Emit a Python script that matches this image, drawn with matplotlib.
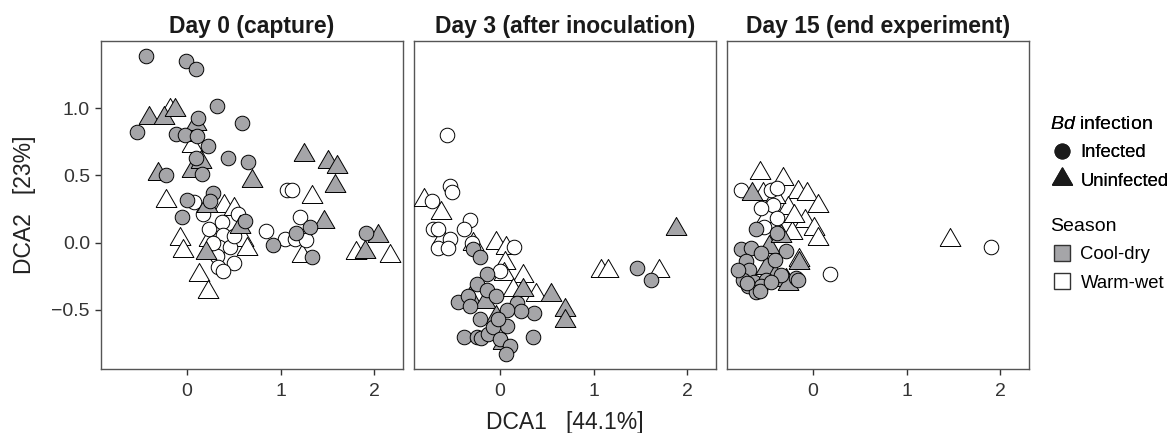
import matplotlib
matplotlib.use("Agg")
import matplotlib.pyplot as plt
from matplotlib.lines import Line2D

plt.rcParams['font.family'] = ['Liberation Sans', 'DejaVu Sans']
plt.rcParams['mathtext.fontset'] = 'custom'
plt.rcParams['mathtext.it'] = 'Liberation Sans:italic'
plt.rcParams['mathtext.rm'] = 'Liberation Sans'

# panel titles
titles = ["Day 0 (capture)", "Day 3 (after inoculation)", "Day 15 (end experiment)"]

# Day 0 points (DCA1, DCA2)
d0_cool_inf = [(-0.44, 1.385), (-0.01, 1.35), (0.10, 1.29), (0.32, 1.02), (0.59, 0.89), (0.12, 0.93),
               (-0.53, 0.82), (-0.12, 0.81), (-0.02, 0.80), (0.11, 0.79), (0.22, 0.72), (0.10, 0.63),
               (0.44, 0.63), (0.65, 0.60), (-0.23, 0.50), (0.16, 0.51), (0.00, 0.32), (0.28, 0.37),
               (0.25, 0.31), (-0.05, 0.19), (0.62, 0.16), (0.92, -0.02), (1.17, 0.07), (1.31, 0.12),
               (1.34, -0.11), (1.91, 0.07)]
d0_cool_uninf = [(-0.41, 0.93), (-0.25, 0.93), (-0.13, 0.99), (0.10, 0.88), (-0.31, 0.51), (0.05, 0.53),
                 (0.15, 0.60), (0.21, 0.27), (0.57, 0.12), (0.70, 0.46), (1.25, 0.65), (1.51, 0.60),
                 (1.60, 0.56), (1.58, 0.42), (1.46, 0.15), (2.04, 0.05), (1.90, -0.07), (0.20, -0.08)]
d0_warm_inf = [(0.08, 0.30), (0.17, 0.21), (0.55, 0.21), (0.23, 0.10), (0.37, 0.15), (0.38, 0.06),
               (0.34, -0.03), (0.46, -0.03), (0.50, -0.15), (0.32, -0.10), (0.33, -0.18), (0.39, -0.21),
               (0.84, 0.09), (1.05, 0.03), (1.16, 0.03), (1.27, 0.02), (1.21, 0.19), (1.07, 0.39),
               (1.12, 0.39), (0.50, 0.05), (0.28, 0.00)]
d0_warm_uninf = [(-0.18, 0.99), (-0.22, 0.31), (-0.07, 0.03), (-0.04, -0.06), (0.13, -0.24), (0.22, -0.37),
                 (0.23, 0.02), (0.40, 0.27), (0.50, 0.25), (0.60, 0.02), (0.64, -0.05), (0.05, 0.72),
                 (0.04, 0.80), (1.23, -0.10), (1.34, 0.34), (1.81, -0.08), (2.17, -0.10)]

# Day 3 points
d3_cool_inf = [(1.46, -0.19), (1.61, -0.28), (-0.29, -0.05), (-0.21, -0.11), (-0.14, -0.23), (-0.25, -0.31),
               (-0.14, -0.35), (-0.04, -0.40), (-0.45, -0.44), (-0.34, -0.40), (-0.32, -0.47), (-0.21, -0.57),
               (0.18, -0.45), (0.36, -0.52), (0.22, -0.51), (0.07, -0.50), (0.07, -0.62), (-0.39, -0.70),
               (-0.25, -0.70), (-0.20, -0.71), (-0.13, -0.68), (-0.07, -0.63), (0.00, -0.72), (0.11, -0.77),
               (0.06, -0.83), (0.35, -0.70), (-0.02, -0.57)]
d3_cool_uninf = [(1.88, 0.10), (-0.32, -0.41), (-0.16, -0.44), (0.25, -0.35), (0.54, -0.39), (0.69, -0.50),
                 (0.70, -0.58), (0.03, -0.75), (-0.04, -0.55)]
d3_warm_inf = [(-0.57, 0.80), (-0.53, 0.42), (-0.51, 0.38), (-0.73, 0.31), (-0.32, 0.17), (-0.72, 0.10),
               (-0.66, 0.10), (-0.54, 0.03), (-0.38, 0.10), (-0.66, -0.04), (-0.56, -0.04), (0.15, -0.03),
               (0.00, -0.21), (-0.30, 0.00)]
d3_warm_uninf = [(-0.81, 0.32), (-0.63, 0.22), (-0.62, 0.03), (-0.29, -0.01), (-0.04, 0.00), (0.06, -0.04),
                 (0.05, -0.15), (0.04, -0.23), (0.25, -0.25), (0.38, -0.39), (1.08, -0.21), (1.16, -0.21),
                 (1.70, -0.21), (0.14, -0.35)]

# Day 15 points
d15_cool_inf = [(-0.61, 0.10), (-0.77, -0.05), (-0.66, -0.04), (-0.29, -0.06), (-0.72, -0.14), (-0.68, -0.20),
                (-0.75, -0.28), (-0.63, -0.29), (-0.50, -0.28), (-0.34, -0.24), (-0.18, -0.26), (-0.41, -0.13),
                (-0.56, -0.08), (-0.38, 0.07), (-0.70, -0.32), (-0.56, -0.32), (-0.61, -0.37), (-0.57, -0.36),
                (-0.71, -0.30), (-0.16, -0.28), (-0.45, -0.29), (-0.80, -0.20)]
d15_cool_uninf = [(-0.65, 0.36), (-0.47, -0.03), (-0.50, -0.19), (-0.41, -0.25), (-0.29, -0.28),
                  (-0.15, -0.15), (-0.34, 0.05), (-0.27, -0.31)]
d15_warm_inf = [(-0.77, 0.39), (-0.45, 0.39), (-0.38, 0.41), (-0.43, 0.28), (-0.38, 0.18), (-0.56, 0.26),
                (-0.52, 0.12), (0.18, -0.23), (1.90, -0.03)]
d15_warm_uninf = [(-0.57, 0.52), (-0.32, 0.47), (-0.16, 0.38), (-0.06, 0.36), (0.05, 0.27), (-0.09, 0.16),
                  (0.01, 0.10), (0.05, 0.03), (-0.22, 0.07), (-0.15, -0.13), (-0.54, 0.36), (-0.27, 0.26),
                  (-0.41, 0.34), (-0.20, 0.20), (-0.49, 0.20), (1.46, 0.02)]

panels = [
    (d0_cool_inf, d0_cool_uninf, d0_warm_inf, d0_warm_uninf),
    (d3_cool_inf, d3_cool_uninf, d3_warm_inf, d3_warm_uninf),
    (d15_cool_inf, d15_cool_uninf, d15_warm_inf, d15_warm_uninf),
]

# equilateral triangle centred on its centroid (like ggplot shape 24)
tri = [(-1, -0.577), (1, -0.577), (0, 1.155), (-1, -0.577)]

gray = '#a5a5a8'
fig = plt.figure(figsize=(11.72, 4.33), dpi=100)
lefts = [101, 414, 727]
for k, (ci, cu, wi, wu) in enumerate(panels):
    ax = fig.add_axes([lefts[k] / 1172, 1 - 369 / 433, 302 / 1172, 328 / 433])
    for pts, mk, fc, sz in [(wu, tri, 'white', 300), (wi, 'o', 'white', 110),
                            (cu, tri, gray, 300), (ci, 'o', gray, 110)]:
        xs = [p[0] for p in pts]
        ys = [p[1] for p in pts]
        ax.scatter(xs, ys, marker=mk, s=sz, facecolor=fc, edgecolor='black', linewidth=0.7, zorder=3)
    ax.set_xlim(-0.92, 2.31)
    ax.set_ylim(-0.94, 1.50)
    ax.set_xticks([0, 1, 2])
    ax.set_xticklabels(['0', '1', '2'])
    ax.set_yticks([-0.5, 0, 0.5, 1.0])
    if k == 0:
        ax.set_yticklabels(['\u22120.5', '0.0', '0.5', '1.0'])
        ax.set_ylabel('DCA2   [23%]', fontsize=16.5, labelpad=11, color='#222222')
    else:
        ax.tick_params(axis='y', left=False, labelleft=False)
    if k == 1:
        ax.set_xlabel('DCA1   [44.1%]', fontsize=16.5, labelpad=8, color='#222222')
    ax.tick_params(labelsize=14, length=4, width=1, color='#333333', labelcolor='#333333', pad=4)
    ax.tick_params(axis='x', pad=6)
    for sp in ax.spines.values():
        sp.set_color('#555555')
        sp.set_linewidth(1)
    ax.set_title(titles[k], fontsize=16.5, fontweight='bold', pad=6, color='#1a1a1a')

# legends
h_inf = [Line2D([], [], marker='o', ls='', color='#1a1a1a', markersize=10.5, label='Infected'),
         Line2D([], [], marker=tri, ls='', color='#1a1a1a', markersize=16.5, label='Uninfected')]
h_sea = [Line2D([], [], marker='s', ls='', markerfacecolor=gray, markeredgecolor='#333333', markersize=11.5,
                label='Cool-dry'),
         Line2D([], [], marker='s', ls='', markerfacecolor='white', markeredgecolor='#333333', markersize=11.5,
                label='Warm-wet')]
common = dict(loc='upper left', frameon=False, fontsize=13.3, title_fontsize=14, alignment='left',
              handletextpad=0.35, handlelength=1.3, labelspacing=0.62, borderaxespad=0, borderpad=0)
leg1 = fig.legend(handles=h_inf, title=r'$\it{Bd}$ infection',
                  bbox_to_anchor=(1050 / 1172, 1 - 116 / 433), **common)
leg2 = fig.legend(handles=h_sea, title='Season',
                  bbox_to_anchor=(1050 / 1172, 1 - 218 / 433), **common)
fig.add_artist(leg1)

fig.savefig('out.png', dpi=100)
